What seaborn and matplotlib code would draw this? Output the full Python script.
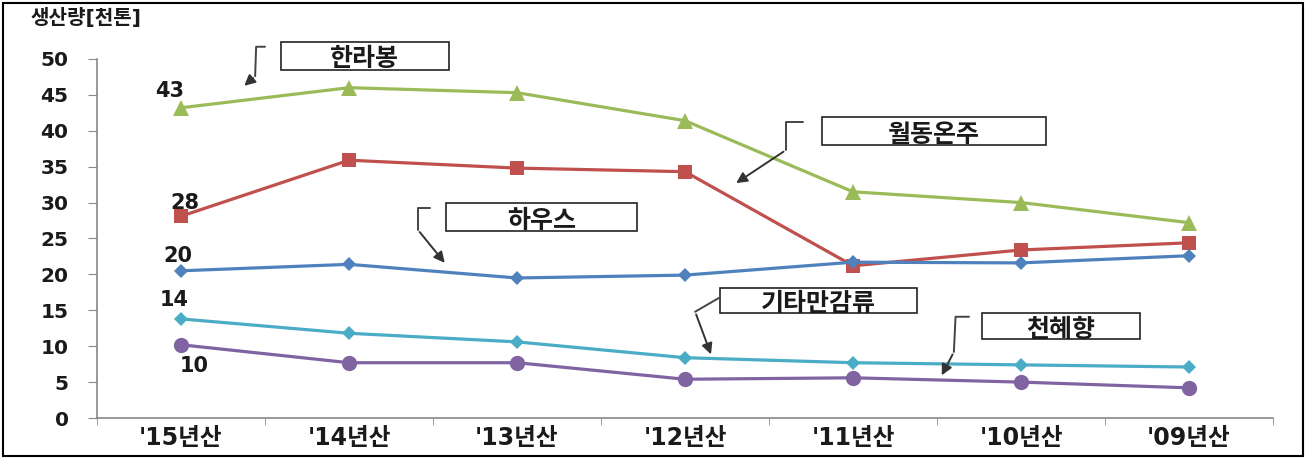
import pandas as pd
import matplotlib
matplotlib.use('Agg')
import matplotlib.pyplot as plt
from matplotlib.patches import Rectangle
import seaborn as sns

years = ["'15년산", "'14년산", "'13년산", "'12년산", "'11년산", "'10년산", "'09년산"]
series_names = ['한라봉', '월동온주', '하우스', '기타만감류', '천혜향']
hallabong = [43.2, 46.0, 45.3, 41.4, 31.5, 30.0, 27.2]
woldong = [28.1, 35.9, 34.8, 34.3, 21.2, 23.4, 24.4]
house = [20.5, 21.4, 19.5, 19.9, 21.7, 21.6, 22.6]
etc_mandarin = [13.8, 11.8, 10.6, 8.4, 7.7, 7.4, 7.1]
cheonhyehyang = [10.2, 7.7, 7.7, 5.4, 5.6, 5.0, 4.2]
first_labels = ['43', '28', '20', '14', '10']

colors = {'한라봉': '#9BBB59', '월동온주': '#C0504D', '하우스': '#4F81BD',
          '기타만감류': '#4BACC6', '천혜향': '#8064A2'}
markers = {'한라봉': '^', '월동온주': 's', '하우스': 'D',
           '기타만감류': 'D', '천혜향': 'o'}
marker_sizes = {'한라봉': 11, '월동온주': 10, '하우스': 7, '기타만감류': 7, '천혜향': 11}

rows = []
for name, vals in zip(series_names, [hallabong, woldong, house, etc_mandarin, cheonhyehyang]):
    for y, v in zip(years, vals):
        rows.append({'연도': y, '품종': name, '생산량': v})
df = pd.DataFrame(rows)

sns.set_style('white')
plt.rcParams['font.family'] = ['DejaVu Sans', 'Noto Sans CJK KR']
plt.rcParams['font.weight'] = 'heavy'
text_color = '#1a1a1a'

fig = plt.figure(figsize=(13.06, 4.58), dpi=100)
ax = fig.add_axes([0.0743, 0.0873, 0.9005, 0.784])

for name in series_names:
    sub = df[df['품종'] == name]
    sns.lineplot(data=sub, x='연도', y='생산량', ax=ax, color=colors[name],
                 marker=markers[name], markersize=marker_sizes[name],
                 markeredgewidth=0, linewidth=2.3, sort=False, legend=False)

# value labels on the first point
label_pos = [(-0.07, 45.5), (0.02, 30.0), (-0.02, 22.5), (-0.04, 16.4), (0.08, 7.2)]
for txt, (lx, ly) in zip(first_labels, label_pos):
    ax.text(lx, ly, txt, fontsize=15, fontweight='heavy', ha='center', va='center', color=text_color)

# name boxes with bracket arrows
boxes = {
    '한라봉': ((0.596, 48.5), (1.592, 52.4)),
    '월동온주': ((3.816, 38.0), (5.146, 41.9)),
    '하우스': ((1.580, 26.0), (2.713, 29.9)),
    '기타만감류': ((3.208, 14.6), (4.383, 18.1)),
    '천혜향': ((4.770, 11.0), (5.707, 14.6)),
}
brackets = {
    '한라봉': ([(0.50, 51.7), (0.447, 51.7), (0.441, 47.6)], (0.364, 46.0)),
    '월동온주': ([(3.70, 41.2), (3.60, 41.2), (3.60, 37.3)], (3.29, 32.5)),
    '하우스': ([(1.48, 29.2), (1.41, 29.2), (1.41, 26.2)], (1.58, 21.3)),
    '기타만감류': ([(3.20, 16.7), (3.06, 14.8)], (3.16, 8.5)),
    '천혜향': ([(4.69, 14.1), (4.61, 14.1), (4.60, 9.2)], (4.52, 5.6)),
}
for name in series_names:
    (x0, y0), (x1, y1) = boxes[name]
    ax.add_patch(Rectangle((x0, y0), x1 - x0, y1 - y0, facecolor='white',
                           edgecolor='#222222', lw=1.2, clip_on=False, zorder=5))
    ax.text((x0 + x1) / 2, (y0 + y1) / 2 - 0.5, name, fontsize=18, fontweight='heavy',
            ha='center', va='center', zorder=6, color=text_color)
    pts, tip = brackets[name]
    ax.plot([p[0] for p in pts], [p[1] for p in pts], color='#444444', lw=1.4,
            clip_on=False, zorder=5)
    ax.annotate('', xy=tip, xytext=pts[-1],
                arrowprops=dict(arrowstyle='-|>', color='#333333', lw=1.4,
                                mutation_scale=16), annotation_clip=False, zorder=5)

ax.set_xlim(-0.5, 6.5)
ax.set_ylim(0, 50)
ax.set_yticks(range(0, 51, 5))
ax.set_xlabel('')
ax.set_ylabel('')
ax.set_xticks(range(len(years)))
ax.set_xticklabels(years, fontsize=17, fontweight='heavy', color=text_color)
ax.set_xticks([i - 0.5 for i in range(len(years) + 1)], minor=True)
ax.tick_params(axis='x', which='major', length=0, pad=6)
ax.tick_params(axis='x', which='minor', length=5, color='#888888', direction='out', bottom=True)
ax.tick_params(axis='y', length=6.5, color='#888888', direction='out', left=True, pad=14)
for lbl in ax.get_yticklabels():
    lbl.set_fontsize(14.5)
    lbl.set_fontweight('heavy')
    lbl.set_color(text_color)
sns.despine(ax=ax)
for s in ['left', 'bottom']:
    ax.spines[s].set_color('#888888')
    ax.spines[s].set_linewidth(1.2)

fig.text(0.023, 0.96, '생산량[천톤]', fontsize=14.5, fontweight='heavy', ha='left', va='center', color=text_color)
fig.patches.append(Rectangle((0.002, 0.004), 0.996, 0.99, transform=fig.transFigure,
                             fill=False, edgecolor='black', lw=1.5))

fig.savefig('out.png', dpi=100)
